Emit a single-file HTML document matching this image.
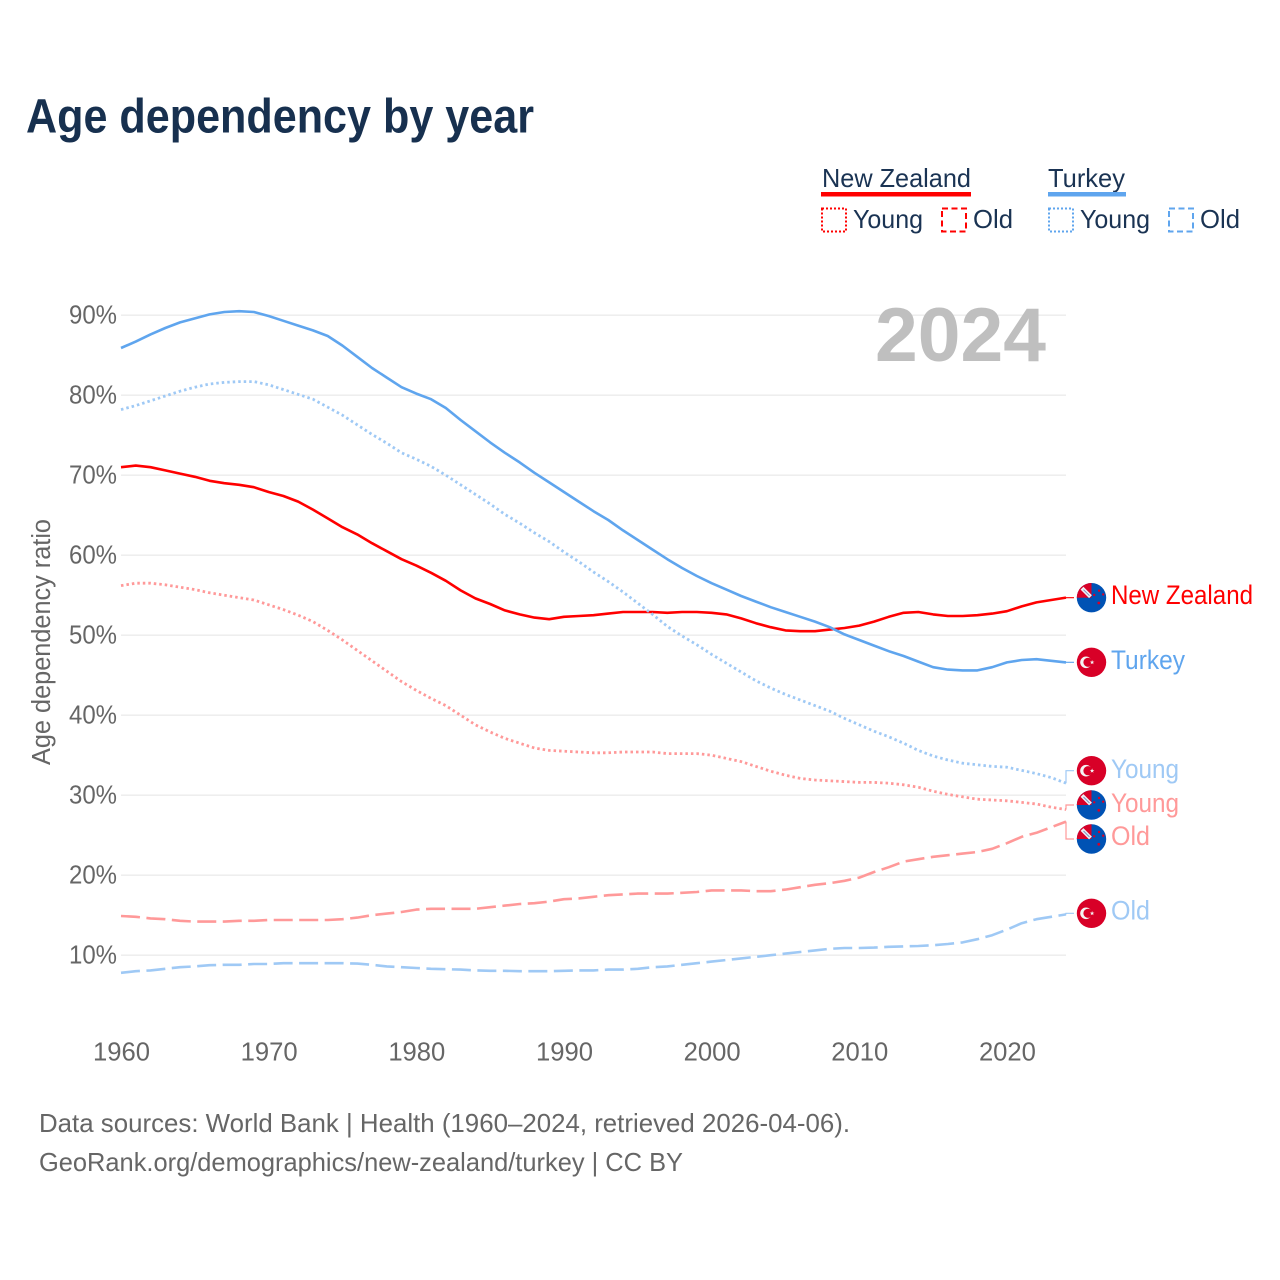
<!DOCTYPE html>
<html lang="en">
<head>
<meta charset="utf-8">
<title>Age dependency by year</title>
<style>
html,body{margin:0;padding:0;background:#fff;}
svg{display:block;font-family:"Liberation Sans",sans-serif;}
.lg{fill:#1a3353;font-size:26px;}
.tk{fill:#666;font-size:25.5px;}
.ft{fill:#666;font-size:26px;}
.el{font-size:26.5px;}
</style>
</head>
<body>
<svg id="chart" xmlns="http://www.w3.org/2000/svg" width="1280" height="1280" viewBox="0 0 1280 1280">
  <defs>
    <clipPath id="flag-clip"><circle cx="0" cy="0" r="14.7"/></clipPath>
    <symbol id="flag-nz" overflow="visible">
      <g clip-path="url(#flag-clip)">
        <rect x="-16" y="-16" width="32" height="32" fill="#0052b4"/>
        <rect x="-16" y="-16" width="16" height="16" fill="#d80027"/>
        <path d="M-9.5,-9.5 L-1,-1" stroke="#eef0f5" stroke-width="4"/>
        <path d="M-8,-8 L-2,-2" stroke="#7d8fc0" stroke-width="1"/>
        <circle cx="7.6" cy="-7" r="1.2" fill="#d80027"/>
        <circle cx="2.7" cy="-2.7" r="1.2" fill="#d80027"/>
        <circle cx="11.7" cy="-3.3" r="1.2" fill="#d80027"/>
        <circle cx="7.3" cy="5.3" r="1.4" fill="#d80027"/>
      </g>
    </symbol>
    <symbol id="flag-tr" overflow="visible">
      <circle cx="0" cy="0" r="14.7" fill="#d80027"/>
      <circle cx="-5.5" cy="0" r="5.8" fill="#f4f4f4"/>
      <circle cx="-3.5" cy="0" r="4.6" fill="#d80027"/>
      <polygon points="0.6,-2.3 1.2,-0.7 2.9,-0.7 1.5,0.3 2,2 0.6,1 -0.8,2 -0.3,0.3 -1.7,-0.7 0,-0.7" fill="#f4f4f4"/>
    </symbol>
  </defs>

  <text x="26" y="132.5" font-size="48.5" font-weight="700" fill="#17304f" textLength="508" lengthAdjust="spacingAndGlyphs">Age dependency by year</text>

  <g>
    <text class="lg" x="822" y="187" textLength="149" lengthAdjust="spacingAndGlyphs">New Zealand</text>
    <rect x="821" y="192" width="150" height="4.5" fill="#ff0000"/>
    <rect x="822" y="208.5" width="24" height="23" fill="none" stroke="#ff0000" stroke-width="2" stroke-dasharray="2 2"/>
    <text class="lg" x="853" y="228" textLength="70" lengthAdjust="spacingAndGlyphs">Young</text>
    <rect x="942" y="208.5" width="24" height="23" fill="none" stroke="#ff0000" stroke-width="2" stroke-dasharray="6 3.5"/>
    <text class="lg" x="973" y="228" textLength="40" lengthAdjust="spacingAndGlyphs">Old</text>

    <text class="lg" x="1048" y="187" textLength="77" lengthAdjust="spacingAndGlyphs">Turkey</text>
    <rect x="1048" y="192" width="78" height="4.5" fill="#5fa5ee"/>
    <rect x="1049" y="208.5" width="24" height="23" fill="none" stroke="#5fa5ee" stroke-width="2" stroke-dasharray="2 2"/>
    <text class="lg" x="1080" y="228" textLength="70" lengthAdjust="spacingAndGlyphs">Young</text>
    <rect x="1169" y="208.5" width="24" height="23" fill="none" stroke="#5fa5ee" stroke-width="2" stroke-dasharray="6 3.5"/>
    <text class="lg" x="1200" y="228" textLength="40" lengthAdjust="spacingAndGlyphs">Old</text>
  </g>

  <g id="grid"></g>
  <g id="yticks"></g>
  <g id="xticks"></g>

  <text class="tk" transform="translate(50,765) rotate(-90)" x="0" y="0" textLength="246" lengthAdjust="spacingAndGlyphs">Age dependency ratio</text>

  <text x="875" y="361" font-size="76" font-weight="700" fill="#bfbfbf" textLength="171" lengthAdjust="spacingAndGlyphs">2024</text>

  <g id="series"></g>

  <g>
    <use href="#flag-nz" x="1091.5" y="597.7"/>
    <use href="#flag-tr" x="1091.5" y="662.3"/>
    <use href="#flag-tr" x="1091.5" y="770.7"/>
    <use href="#flag-nz" x="1091.5" y="805"/>
    <use href="#flag-nz" x="1091.5" y="839"/>
    <use href="#flag-tr" x="1091.5" y="913.3"/>
  </g>

  <g>
    <text class="el" x="1111" y="604" fill="#ff0000" textLength="142" lengthAdjust="spacingAndGlyphs">New Zealand</text>
    <text class="el" x="1111" y="669" fill="#5fa5ee" textLength="74" lengthAdjust="spacingAndGlyphs">Turkey</text>
    <text class="el" x="1111" y="778" fill="#9fc9f5" textLength="68" lengthAdjust="spacingAndGlyphs">Young</text>
    <text class="el" x="1111" y="812" fill="#ff9999" textLength="68" lengthAdjust="spacingAndGlyphs">Young</text>
    <text class="el" x="1111" y="845" fill="#ff9999" textLength="39" lengthAdjust="spacingAndGlyphs">Old</text>
    <text class="el" x="1111" y="919.5" fill="#9fc9f5" textLength="39" lengthAdjust="spacingAndGlyphs">Old</text>
  </g>

  <text class="ft" x="39" y="1132" textLength="811" lengthAdjust="spacingAndGlyphs">Data sources: World Bank | Health (1960–2024, retrieved 2026-04-06).</text>
  <text class="ft" x="39" y="1171" textLength="644" lengthAdjust="spacingAndGlyphs">GeoRank.org/demographics/new-zealand/turkey | CC BY</text>
</svg>

<script>
const years = [1960,1961,1962,1963,1964,1965,1966,1967,1968,1969,1970,1971,1972,1973,1974,1975,1976,1977,1978,1979,1980,1981,1982,1983,1984,1985,1986,1987,1988,1989,1990,1991,1992,1993,1994,1995,1996,1997,1998,1999,2000,2001,2002,2003,2004,2005,2006,2007,2008,2009,2010,2011,2012,2013,2014,2015,2016,2017,2018,2019,2020,2021,2022,2023,2024];
const yTickValues = [10,20,30,40,50,60,70,80,90];
const xTickValues = [1960,1970,1980,1990,2000,2010,2020];

const nzTotal = [71.0,71.2,71.0,70.6,70.2,69.8,69.3,69.0,68.8,68.5,67.9,67.4,66.7,65.7,64.6,63.5,62.6,61.5,60.5,59.5,58.7,57.8,56.8,55.6,54.6,53.9,53.1,52.6,52.2,52.0,52.3,52.4,52.5,52.7,52.9,52.9,52.9,52.8,52.9,52.9,52.8,52.6,52.1,51.5,51.0,50.6,50.5,50.5,50.7,50.9,51.2,51.7,52.3,52.8,52.9,52.6,52.4,52.4,52.5,52.7,53.0,53.6,54.1,54.4,54.7];
const nzYoung = [56.2,56.5,56.5,56.3,56.0,55.7,55.3,55.0,54.7,54.4,53.8,53.2,52.5,51.7,50.6,49.4,48.1,46.8,45.5,44.2,43.1,42.1,41.2,40.0,38.8,37.9,37.1,36.5,35.9,35.6,35.5,35.4,35.3,35.3,35.4,35.4,35.4,35.2,35.2,35.2,35.0,34.6,34.2,33.6,33.0,32.5,32.1,31.9,31.8,31.7,31.6,31.6,31.5,31.3,31.0,30.5,30.1,29.8,29.5,29.4,29.3,29.1,28.9,28.5,28.2];
const nzOld = [14.9,14.8,14.6,14.5,14.3,14.2,14.2,14.2,14.3,14.3,14.4,14.4,14.4,14.4,14.4,14.5,14.7,15.0,15.2,15.4,15.7,15.8,15.8,15.8,15.8,16.0,16.2,16.4,16.5,16.7,17.0,17.1,17.3,17.5,17.6,17.7,17.7,17.7,17.8,17.9,18.1,18.1,18.1,18.0,18.0,18.2,18.5,18.8,19.0,19.3,19.7,20.4,21.0,21.7,22.0,22.3,22.5,22.7,22.9,23.3,24.0,24.8,25.3,26.0,26.7];
const trTotal = [85.9,86.7,87.6,88.4,89.1,89.6,90.1,90.4,90.5,90.4,89.9,89.3,88.7,88.1,87.4,86.2,84.8,83.4,82.2,81.0,80.2,79.5,78.4,76.9,75.5,74.1,72.8,71.6,70.3,69.1,67.9,66.7,65.5,64.4,63.1,61.9,60.7,59.5,58.4,57.4,56.5,55.7,54.9,54.2,53.5,52.9,52.3,51.7,51.0,50.1,49.4,48.7,48.0,47.4,46.7,46.0,45.7,45.6,45.6,46.0,46.6,46.9,47.0,46.8,46.6];
const trYoung = [78.2,78.7,79.3,79.9,80.5,81.0,81.4,81.6,81.7,81.7,81.3,80.7,80.1,79.5,78.5,77.5,76.3,75.1,74.0,72.8,72.0,71.1,70.0,68.8,67.6,66.4,65.1,64.0,62.8,61.7,60.4,59.2,57.9,56.7,55.4,54.0,52.6,51.1,49.9,48.8,47.6,46.5,45.4,44.3,43.4,42.6,41.9,41.2,40.5,39.6,38.8,38.0,37.3,36.5,35.6,34.9,34.4,34.0,33.8,33.6,33.5,33.1,32.7,32.2,31.5];
const trOld = [7.8,8.0,8.1,8.3,8.5,8.6,8.75,8.8,8.8,8.9,8.9,9.0,9.0,9.0,9.0,9.0,8.95,8.8,8.6,8.5,8.4,8.3,8.25,8.2,8.1,8.05,8.05,8.0,8.0,8.0,8.05,8.1,8.1,8.2,8.2,8.3,8.5,8.6,8.8,9.0,9.2,9.4,9.6,9.8,10.0,10.2,10.4,10.6,10.8,10.9,10.9,10.95,11.05,11.1,11.15,11.25,11.4,11.6,12.0,12.5,13.2,14.0,14.5,14.8,15.1];

const SVG_NS = 'http://www.w3.org/2000/svg';
const xScale = function (year) { return 121 + (year - 1960) * 945 / 64; };
const yScale = function (value) { return 1035.2 - 8 * value; };
const fmt = function (n) { return n.toFixed(2); };

const gridGroup = document.getElementById('grid');
const yTickGroup = document.getElementById('yticks');
yTickValues.forEach(function (v) {
  const line = document.createElementNS(SVG_NS, 'line');
  
  
  line.setAttribute('x1', xScale(1960));
  line.setAttribute('x2', xScale(2024));
  line.setAttribute('y1', yScale(v));
  line.setAttribute('y2', yScale(v));
  line.setAttribute('stroke', '#ebebeb');
  line.setAttribute('stroke-width', '1.3');
  gridGroup.appendChild(line);

  const label = document.createElementNS(SVG_NS, 'text');
  
  
  label.setAttribute('class', 'tk');
  label.setAttribute('x', 69);
  label.setAttribute('y', yScale(v) + 8.5);
  label.setAttribute('textLength', '48');
  label.setAttribute('lengthAdjust', 'spacingAndGlyphs');
  label.textContent = v + '%';
  yTickGroup.appendChild(label);
});

const xTickGroup = document.getElementById('xticks');
xTickValues.forEach(function (yr) {
  const label = document.createElementNS(SVG_NS, 'text');
  
  
  label.setAttribute('class', 'tk');
  label.setAttribute('x', xScale(yr) + 0.5);
  label.setAttribute('y', 1060.5);
  label.setAttribute('text-anchor', 'middle');
  label.setAttribute('textLength', '57');
  label.setAttribute('lengthAdjust', 'spacingAndGlyphs');
  label.textContent = yr;
  xTickGroup.appendChild(label);
});

const seriesGroup = document.getElementById('series');

function addLine(name, values, color, dash, width, flagY) {
  const d = values.map(function (v, i) {
    return (i ? 'L' : 'M') + fmt(xScale(years[i])) + ',' + fmt(yScale(v));
  }).join(' ');
  const path = document.createElementNS(SVG_NS, 'path');
  
  
  path.setAttribute('d', d);
  path.setAttribute('fill', 'none');
  path.setAttribute('stroke', color);
  path.setAttribute('stroke-width', width);
  path.setAttribute('stroke-linejoin', 'round');
  if (dash) path.setAttribute('stroke-dasharray', dash);
  seriesGroup.appendChild(path);

  const endX = xScale(years[years.length - 1]);
  const endY = yScale(values[values.length - 1]);
  const leader = document.createElementNS(SVG_NS, 'path');
  
  
  leader.setAttribute('d', 'M' + fmt(endX) + ',' + fmt(endY) + ' L' + fmt(endX) + ',' + flagY + ' L' + (endX + 8) + ',' + flagY);
  leader.setAttribute('fill', 'none');
  leader.setAttribute('stroke', color);
  leader.setAttribute('stroke-width', '1.2');
  seriesGroup.appendChild(leader);
}

addLine('line-new-zealand-old', nzOld, '#ff9999', '19 6.5', 2.6, 839);
addLine('line-new-zealand-young', nzYoung, '#ff9999', '2.5 3', 2.8, 805);
addLine('line-new-zealand-total', nzTotal, '#ff0000', '', 2.6, 597.7);
addLine('line-turkey-old', trOld, '#9fc9f5', '19 6.5', 2.6, 913.3);
addLine('line-turkey-young', trYoung, '#9fc9f5', '2.5 3', 2.8, 770.7);
addLine('line-turkey-total', trTotal, '#5fa5ee', '', 2.6, 662.3);
</script>
</body>
</html>
